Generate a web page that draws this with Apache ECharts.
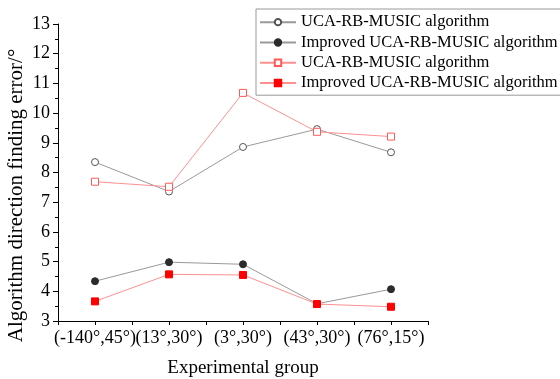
<!DOCTYPE html>
<html>
<head>
<meta charset="utf-8">
<script src="https://cdn.jsdelivr.net/npm/echarts@6/dist/echarts.min.js"></script>
<style>
html,body{margin:0;padding:0;background:#fff;}
#main{width:560px;height:379px;}
</style>
</head>
<body>
<div id="main"></div>
<script>
var categories = ['(-140°,45°)', '(13°,30°)', '(3°,30°)', '(43°,30°)', '(76°,15°)'];
var names = ['UCA-RB-MUSIC algorithm', 'Improved UCA-RB-MUSIC algorithm', 'UCA-RB-MUSIC algorithm ', 'Improved UCA-RB-MUSIC algorithm '];
var grayOpen = [8.35, 7.36, 8.86, 9.46, 8.68];
var grayFilled = [4.34, 4.98, 4.91, 3.58, 4.07];
var redOpen = [7.69, 7.52, 10.68, 9.37, 9.21];
var redFilled = [3.66, 4.57, 4.55, 3.57, 3.48];

var myChart = echarts.init(document.getElementById('main'));
var font = 'Liberation Serif';

function pts(arr) {
    return arr.map(function (v, i) { return [i, v]; });
}

option = {
    animation: false,
    textStyle: { fontFamily: font, color: '#000' },
    grid: { left: 58, right: 132, top: 24, bottom: 58, outerBoundsMode: 'none' },
    legend: {
        orient: 'vertical',
        left: 256,
        top: 9,
        padding: [3, 2, 2, 3],
        itemGap: 0,
        itemWidth: 36,
        itemHeight: 8,
        borderColor: '#999',
        borderWidth: 1,
        textStyle: { fontFamily: font, fontSize: 16.5, lineHeight: 20.3, color: '#000' },
        data: names
    },
    xAxis: {
        type: 'value',
        min: -0.5,
        max: 4.5,
        interval: 0.5,
        name: 'Experimental group',
        nameLocation: 'middle',
        nameGap: 38,
        nameMoveOverlap: false,
        nameTextStyle: { fontFamily: font, fontSize: 19, color: '#000' },
        axisLine: { onZero: false, lineStyle: { color: '#000', width: 1 } },
        axisTick: { show: true, length: 4, lineStyle: { color: '#000' } },
        axisLabel: {
            fontFamily: font, fontSize: 18, color: '#000', margin: 8,
            formatter: function (v) {
                return Number.isInteger(v) ? categories[v] : '';
            }
        },
        splitLine: { show: false }
    },
    yAxis: {
        type: 'value',
        min: 3,
        max: 13,
        interval: 1,
        name: 'Algorithm direction finding error/°',
        nameLocation: 'middle',
        nameGap: 31,
        nameMoveOverlap: false,
        nameTextStyle: { fontFamily: font, fontSize: 21, color: '#000', padding: [0, 46, 0, 0] },
        axisLine: { show: true, onZero: false, lineStyle: { color: '#000', width: 1 } },
        axisTick: { show: true, length: 5, lineStyle: { color: '#000' } },
        minorTick: { show: true, splitNumber: 2, length: 3, lineStyle: { color: '#000' } },
        axisLabel: { fontFamily: font, fontSize: 18, color: '#000', margin: 8 },
        splitLine: { show: false }
    },
    series: [
        {
            name: names[0], type: 'line', data: pts(grayOpen),
            symbol: 'circle', symbolSize: 7,
            lineStyle: { color: '#999', width: 1 },
            itemStyle: { color: '#fff', borderColor: '#555', borderWidth: 1 }
        },
        {
            name: names[1], type: 'line', data: pts(grayFilled),
            symbol: 'circle', symbolSize: 7,
            lineStyle: { color: '#999', width: 1 },
            itemStyle: { color: '#2b2b2b', borderColor: '#2b2b2b', borderWidth: 1 }
        },
        {
            name: names[2], type: 'line', data: pts(redOpen),
            symbol: 'rect', symbolSize: 7,
            lineStyle: { color: '#ff9090', width: 1 },
            itemStyle: { color: '#fff', borderColor: '#ff5a5a', borderWidth: 1 }
        },
        {
            name: names[3], type: 'line', data: pts(redFilled),
            symbol: 'rect', symbolSize: 7,
            lineStyle: { color: '#ff9090', width: 1 },
            itemStyle: { color: '#ff0000', borderColor: '#ff0000', borderWidth: 1 }
        }
    ]
};
myChart.setOption(option);

window.addEventListener('resize', function () {
    myChart.resize();
});
</script>
</body>
</html>
